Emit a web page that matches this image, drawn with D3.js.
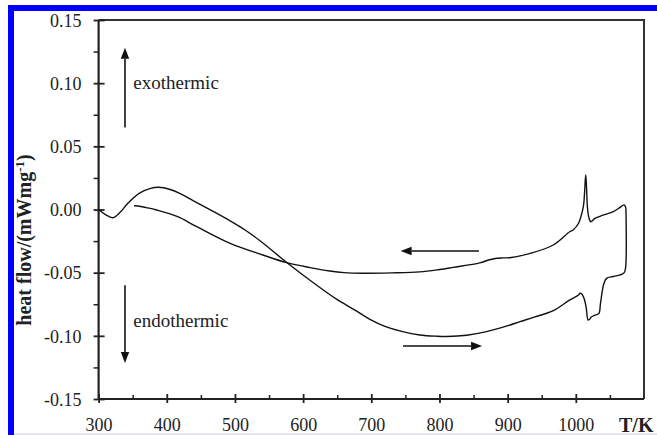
<!DOCTYPE html>
<html lang="en">
<head>
    <meta charset="utf-8">
    <title>DSC heat flow</title>
    <script src="https://d3js.org/d3.v7.min.js"></script>
    <style>
        body { margin: 0; background: #fff; }
        svg text { font-family: "Times New Roman", "Liberation Serif", serif; fill: #222; }
    </style>
</head>
<body>
<div id="chart"></div>
<script>
    const serif = "'Times New Roman', 'Liberation Serif', serif";

    // Heating run (arrow to the right), ends with the vertical jump at the turning point
    const heatT = [300, 310, 321, 332, 343, 360, 375, 388, 405, 419, 444, 468, 493, 517, 541, 576, 610, 649, 676,
        698, 720, 746, 771, 796, 811, 840, 869, 900, 918, 940, 967, 990, 1004, 1006, 1009, 1012, 1015, 1018, 1020,
        1023, 1029, 1034, 1036, 1039, 1041, 1045, 1055, 1065, 1071, 1073, 1073.5];
    const heatV = [0.000, -0.004, -0.0065, -0.002, 0.005, 0.013, 0.0165, 0.0176, 0.0158, 0.0128, 0.0055, -0.0015,
        -0.0090, -0.0170, -0.0265, -0.042, -0.056, -0.071, -0.0796, -0.087, -0.0925, -0.0967, -0.0993, -0.1003,
        -0.1005, -0.0995, -0.0967, -0.092, -0.0888, -0.085, -0.080, -0.072, -0.0677, -0.0663, -0.067, -0.0703,
        -0.0769, -0.0875, -0.087, -0.0849, -0.0835, -0.0822, -0.075, -0.064, -0.059, -0.0545, -0.053, -0.0518,
        -0.050, -0.046, 0.001];

    // Cooling run (arrow to the left)
    const coolT = [1073.5, 1071, 1063, 1055, 1040, 1028, 1022, 1019, 1017, 1015.5, 1014.5, 1013, 1011.5, 1010, 1004,
        996, 991, 967, 933, 903, 893, 884, 872, 859, 820, 800, 771, 730, 688, 660, 639, 610, 576, 541, 493, 444,
        415, 385, 370, 358, 352];
    const coolV = [0.001, 0.0036, 0.001, -0.0017, -0.0045, -0.0070, -0.0097, -0.006, 0.002, 0.020, 0.0273, 0.015,
        0.004, -0.0004, -0.0109, -0.0162, -0.0176, -0.0281, -0.0347, -0.0382, -0.0383, -0.0386, -0.040, -0.0423,
        -0.0458, -0.0475, -0.0494, -0.0502, -0.0505, -0.050, -0.0487, -0.046, -0.0421, -0.036, -0.0268, -0.0136,
        -0.0055, -0.0004, 0.0015, 0.0028, 0.003];

    const xMajor = [300, 400, 500, 600, 700, 800, 900, 1000];
    const xMinor = [350, 450, 550, 650, 750, 850, 950, 1050];
    const yMajor = [-0.15, -0.10, -0.05, 0.00, 0.05, 0.10, 0.15];
    const yMinor = [-0.125, -0.075, -0.025, 0.025, 0.075, 0.125];

    const W = 657, H = 435;
    const margin = {top: 20, right: 13, bottom: 36, left: 98.6};
    const width = W - margin.left - margin.right,
        height = H - margin.top - margin.bottom;

    const root = d3.select("#chart")
        .append("svg")
        .attr("width", W)
        .attr("height", H)
        .attr("font-family", serif);

    // blue frame of the scanned figure (top and left only)
    root.append("rect").attr("x", 8).attr("y", 5).attr("width", W).attr("height", 6).attr("fill", "#0000ff");
    root.append("rect").attr("x", 8).attr("y", 5).attr("width", 6).attr("height", H).attr("fill", "#0000ff");
    root.append("rect").attr("x", 14).attr("y", H - 2).attr("width", W).attr("height", 2).attr("fill", "#e4e6f4");

    const svg = root.append("g")
        .attr("transform", `translate(${margin.left},${margin.top})`);

    const x = d3.scaleLinear().domain([300, 1100]).range([0, width]);
    const y = d3.scaleLinear().domain([-0.15, 0.15]).range([height, 0]);

    // plot frame (top and right)
    svg.append("path")
        .attr("d", `M0,0H${width}V${height}`)
        .attr("fill", "none")
        .attr("stroke", "#333")
        .attr("stroke-width", 2);

    // minor ticks
    svg.append("g")
        .attr("transform", `translate(0,${height})`)
        .call(d3.axisTop(x).tickValues(xMinor).tickSize(4).tickFormat(""))
        .call(g => g.select(".domain").remove())
        .selectAll("line").attr("stroke", "#222").attr("stroke-width", 1.5);

    svg.append("g")
        .call(d3.axisLeft(y).tickValues(yMinor).tickSize(5).tickFormat(""))
        .call(g => g.select(".domain").remove())
        .selectAll("line").attr("stroke", "#222").attr("stroke-width", 1.5);

    // X axis
    const xAxis = svg.append("g")
        .attr("transform", `translate(0,${height})`)
        .call(d3.axisBottom(x).tickValues(xMajor).tickSizeOuter(0).tickFormat(d => d))
        .attr("font-family", serif)
        .attr("font-size", 18);
    xAxis.select(".domain").attr("d", `M0,0H${width}`).attr("stroke", "#222").attr("stroke-width", 2.2);
    xAxis.selectAll(".tick line").attr("y1", -5).attr("y2", 4).attr("stroke", "#222").attr("stroke-width", 1.8);
    xAxis.selectAll(".tick text").attr("y", 32).attr("dy", 0).attr("fill", "#222");

    // Y axis
    const yAxis = svg.append("g")
        .call(d3.axisLeft(y).tickValues(yMajor).tickSizeOuter(0).tickFormat(d => d.toFixed(2)))
        .attr("font-family", serif)
        .attr("font-size", 18);
    yAxis.select(".domain").attr("d", `M0,0V${height}`).attr("stroke", "#222").attr("stroke-width", 2.2);
    yAxis.selectAll(".tick line").attr("x1", -5).attr("x2", 6).attr("stroke", "#222").attr("stroke-width", 1.8);
    yAxis.selectAll(".tick text").attr("x", -17).attr("dy", "0.35em").attr("fill", "#222");

    // axis titles
    root.append("text")
        .attr("x", 619).attr("y", 432)
        .attr("font-size", 20).attr("font-weight", "bold")
        .text("T/K");

    const yTitle = root.append("text")
        .attr("transform", "translate(31,240) rotate(-90)")
        .attr("text-anchor", "middle")
        .attr("font-size", 20).attr("font-weight", "bold");
    yTitle.append("tspan").text("heat flow/(mWmg");
    yTitle.append("tspan").attr("font-size", 13).attr("dy", -7).text("-1");
    yTitle.append("tspan").attr("dy", 7).text(")");

    // curves
    const line = d3.line()
        .x(d => x(d[0]))
        .y(d => y(d[1]))
        .curve(d3.curveCatmullRom.alpha(0.5));

    const heating = heatT.map((t, i) => [t, heatV[i]]);
    const cooling = coolT.map((t, i) => [t, coolV[i]]);

    svg.selectAll(".curve")
        .data([heating, cooling])
        .join("path")
        .attr("class", "curve")
        .attr("d", line)
        .attr("fill", "none")
        .attr("stroke", "#111")
        .attr("stroke-width", 1.4);

    // annotation arrows
    const arrows = [
        {x1: 338.7, y1: 0.065, x2: 338.7, y2: 0.128},
        {x1: 338.7, y1: -0.060, x2: 338.7, y2: -0.1215},
        {x1: 858, y1: -0.0328, x2: 743, y2: -0.0328},
        {x1: 746.5, y1: -0.108, x2: 862.5, y2: -0.108}
    ];
    arrows.forEach(a => {
        const px1 = x(a.x1), py1 = y(a.y1), px2 = x(a.x2), py2 = y(a.y2);
        const ang = Math.atan2(py2 - py1, px2 - px1);
        const len = 11, half = 4.2;
        const bx = px2 - len * Math.cos(ang), by = py2 - len * Math.sin(ang);
        svg.append("line")
            .attr("x1", px1).attr("y1", py1).attr("x2", bx).attr("y2", by)
            .attr("stroke", "#111").attr("stroke-width", 1.6);
        svg.append("path")
            .attr("d", `M${px2},${py2}L${bx - half * Math.sin(ang)},${by + half * Math.cos(ang)}` +
                `L${bx + half * Math.sin(ang)},${by - half * Math.cos(ang)}Z`)
            .attr("fill", "#111");
    });

    svg.append("text")
        .attr("x", x(351)).attr("y", y(0.1) + 6)
        .attr("font-size", 19)
        .text("exothermic");
    svg.append("text")
        .attr("x", x(351)).attr("y", y(-0.0885) + 6)
        .attr("font-size", 19)
        .text("endothermic");
</script>
</body>
</html>
